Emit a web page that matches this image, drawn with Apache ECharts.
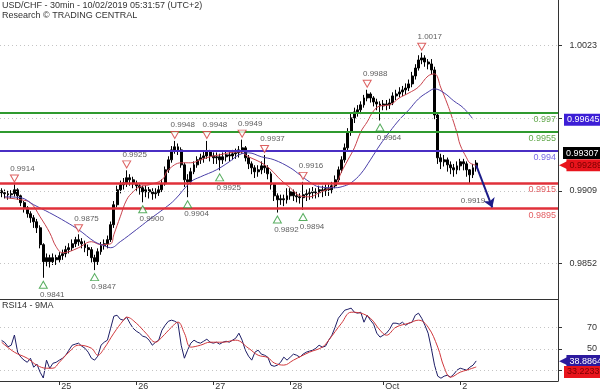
<!DOCTYPE html>
<html><head><meta charset="utf-8">
<script src="https://cdn.jsdelivr.net/npm/echarts@6/dist/echarts.min.js"></script>
<style>html,body{margin:0;padding:0;background:#fff}#c{width:600px;height:392px}</style>
</head><body><div id="c"></div>
<script>
// ---- x axis (hourly slots) ----
const slotCount = 174;
const dayTickIdx = [18, 42, 66, 90, 119, 143];
const dayTickText = ['25', '26', '27', '28', 'Oct', '2'];

// ---- price axis ----
const priceTickValues = [1.0023, 0.9966, 0.9909, 0.9852];
const priceLabelValues = [1.0023, 0.9909, 0.9852];
const priceRange = [0.98244, 1.00582];

// ---- RSI axis ----
const rsiTickValues = [70, 50, 30];
const rsiLabelValues = [70, 50];
const rsiRange = [20.2, 96.5];

// ---- candles: [open, close, low, high] ----
const candles = [
[0.99090,0.99075,0.99040,0.99110],[0.99075,0.99067,0.99030,0.99100],[0.99067,0.99059,0.99020,0.99090],[0.99059,0.99067,0.99030,0.99095],
[0.99067,0.99098,0.99045,0.99140],[0.99098,0.99051,0.99020,0.99110],[0.99051,0.98997,0.98970,0.99060],[0.98997,0.98957,0.98920,0.99010],
[0.98957,0.98911,0.98880,0.98970],[0.98911,0.98879,0.98840,0.98930],[0.98879,0.98848,0.98800,0.98900],[0.98848,0.98801,0.98760,0.98870],
[0.98801,0.98669,0.98640,0.98820],[0.98669,0.98536,0.98410,0.98680],[0.98536,0.98567,0.98500,0.98600],[0.98567,0.98536,0.98490,0.98590],
[0.98536,0.98567,0.98510,0.98600],[0.98567,0.98551,0.98510,0.98590],[0.98551,0.98583,0.98530,0.98610],[0.98583,0.98598,0.98550,0.98630],
[0.98598,0.98630,0.98570,0.98660],[0.98630,0.98645,0.98600,0.98680],[0.98645,0.98676,0.98620,0.98710],[0.98676,0.98708,0.98650,0.98730],
[0.98708,0.98692,0.98660,0.98750],[0.98692,0.98676,0.98640,0.98720],[0.98676,0.98645,0.98610,0.98700],[0.98645,0.98630,0.98580,0.98670],
[0.98630,0.98567,0.98530,0.98650],[0.98567,0.98536,0.98470,0.98590],[0.98536,0.98614,0.98510,0.98640],[0.98614,0.98661,0.98590,0.98690],
[0.98661,0.98676,0.98630,0.98710],[0.98676,0.98708,0.98640,0.98740],[0.98708,0.98825,0.98690,0.98850],[0.98825,0.98981,0.98800,0.99010],
[0.98981,0.99098,0.98960,0.99130],[0.99098,0.99137,0.99070,0.99170],[0.99137,0.99153,0.99100,0.99190],[0.99153,0.99192,0.99120,0.99250],
[0.99192,0.99176,0.99130,0.99220],[0.99176,0.99145,0.99110,0.99200],[0.99145,0.99129,0.99090,0.99170],[0.99129,0.99114,0.99060,0.99150],
[0.99114,0.99082,0.99000,0.99130],[0.99082,0.99098,0.99040,0.99130],[0.99098,0.99082,0.99030,0.99120],[0.99082,0.99067,0.99020,0.99110],
[0.99067,0.99075,0.99030,0.99110],[0.99075,0.99098,0.99050,0.99130],[0.99098,0.99145,0.99080,0.99180],[0.99145,0.99254,0.99130,0.99280],
[0.99254,0.99332,0.99230,0.99360],[0.99332,0.99410,0.99310,0.99440],[0.99410,0.99434,0.99380,0.99480],[0.99434,0.99410,0.99370,0.99460],
[0.99410,0.99293,0.99270,0.99430],[0.99293,0.99176,0.99120,0.99310],[0.99176,0.99160,0.99040,0.99220],[0.99160,0.99239,0.99140,0.99270],
[0.99239,0.99293,0.99220,0.99320],[0.99293,0.99332,0.99270,0.99360],[0.99332,0.99348,0.99300,0.99380],[0.99348,0.99363,0.99310,0.99400],
[0.99363,0.99395,0.99340,0.99480],[0.99395,0.99363,0.99320,0.99410],[0.99363,0.99348,0.99300,0.99390],[0.99348,0.99356,0.99300,0.99390],
[0.99356,0.99332,0.99250,0.99380],[0.99332,0.99356,0.99300,0.99390],[0.99356,0.99371,0.99320,0.99400],[0.99371,0.99363,0.99320,0.99400],
[0.99363,0.99379,0.99330,0.99410],[0.99379,0.99387,0.99340,0.99420],[0.99387,0.99410,0.99350,0.99440],[0.99410,0.99426,0.99380,0.99490],
[0.99426,0.99348,0.99320,0.99440],[0.99348,0.99301,0.99260,0.99370],[0.99301,0.99270,0.99220,0.99320],[0.99270,0.99239,0.99190,0.99290],
[0.99239,0.99254,0.99200,0.99290],[0.99254,0.99285,0.99220,0.99320],[0.99285,0.99270,0.99230,0.99370],[0.99270,0.99223,0.99180,0.99290],
[0.99223,0.99137,0.99100,0.99240],[0.99137,0.99051,0.99010,0.99150],[0.99051,0.99020,0.98920,0.99070],[0.99020,0.99028,0.98980,0.99060],
[0.99028,0.99020,0.98970,0.99060],[0.99020,0.99051,0.98990,0.99110],[0.99051,0.99082,0.99020,0.99110],[0.99082,0.99051,0.99010,0.99100],
[0.99051,0.99043,0.99000,0.99080],[0.99043,0.99036,0.98990,0.99070],[0.99036,0.99059,0.98940,0.99160],[0.99059,0.99067,0.99010,0.99100],
[0.99067,0.99075,0.99020,0.99110],[0.99075,0.99082,0.99030,0.99120],[0.99082,0.99075,0.99030,0.99110],[0.99075,0.99098,0.99040,0.99130],
[0.99098,0.99090,0.99040,0.99130],[0.99090,0.99106,0.99050,0.99140],[0.99106,0.99098,0.99050,0.99140],[0.99098,0.99129,0.99070,0.99160],
[0.99129,0.99176,0.99110,0.99210],[0.99176,0.99254,0.99160,0.99280],[0.99254,0.99332,0.99230,0.99360],[0.99332,0.99426,0.99310,0.99460],
[0.99426,0.99551,0.99400,0.99580],[0.99551,0.99660,0.99520,0.99700],[0.99660,0.99707,0.99620,0.99740],[0.99707,0.99723,0.99670,0.99760],
[0.99723,0.99762,0.99690,0.99790],[0.99762,0.99816,0.99740,0.99840],[0.99816,0.99847,0.99790,0.99880],[0.99847,0.99816,0.99780,0.99860],
[0.99816,0.99785,0.99750,0.99830],[0.99785,0.99769,0.99720,0.99810],[0.99769,0.99754,0.99640,0.99790],[0.99754,0.99769,0.99720,0.99800],
[0.99769,0.99762,0.99720,0.99800],[0.99762,0.99777,0.99730,0.99810],[0.99777,0.99832,0.99760,0.99860],[0.99832,0.99847,0.99800,0.99880],
[0.99847,0.99863,0.99820,0.99900],[0.99863,0.99879,0.99830,0.99910],[0.99879,0.99894,0.99840,0.99930],[0.99894,0.99926,0.99870,0.99960],
[0.99926,0.99988,0.99900,1.00020],[0.99988,1.00050,0.99960,1.00080],[1.00050,1.00113,1.00030,1.00150],[1.00113,1.00129,1.00080,1.00170],
[1.00129,1.00097,1.00060,1.00150],[1.00097,1.00082,1.00040,1.00120],[1.00082,1.00035,1.00000,1.00120],[1.00035,0.99683,0.99650,1.00060],
[0.99683,0.99348,0.99300,0.99700],[0.99348,0.99317,0.99260,0.99380],[0.99317,0.99332,0.99280,0.99370],[0.99332,0.99293,0.99240,0.99350],
[0.99293,0.99270,0.99220,0.99320],[0.99270,0.99254,0.99200,0.99300],[0.99254,0.99285,0.99220,0.99320],[0.99285,0.99317,0.99250,0.99340],
[0.99317,0.99301,0.99250,0.99340],[0.99301,0.99254,0.99200,0.99320],[0.99254,0.99215,0.99150,0.99260],[0.99215,0.99270,0.99190,0.99300],
[0.99270,0.99307,0.99240,0.99330]
];

// ---- moving averages: [slot, value] ----
const maFast = [[1,0.99036],[6,0.99020],[9,0.98997],[12,0.98887],[15,0.98762],[17,0.98653],[19,0.98606],[21,0.98614],[24,0.98645],[28,0.98692],[31,0.98669],[34,0.98676],[35,0.98747],[37,0.98887],[39,0.99020],[41,0.99082],[43,0.99121],[46,0.99137],[50,0.99176],[52,0.99254],[56,0.99309],[59,0.99309],[62,0.99332],[65,0.99356],[68,0.99371],[71,0.99387],[74,0.99395],[77,0.99356],[81,0.99309],[84,0.99254],[87,0.99176],[90,0.99114],[93,0.99051],[96,0.99043],[99,0.99075],[104,0.99137],[106,0.99239],[108,0.99332],[110,0.99426],[112,0.99551],[114,0.99629],[116,0.99715],[118,0.99754],[121,0.99762],[124,0.99816],[127,0.99855],[130,0.99902],[133,0.99988],[135,1.00004],[137,0.99894],[139,0.99769],[140,0.99699],[142,0.99543],[143,0.99449],[145,0.99348],[146,0.99309],[148,0.99289]];
const maSlow = [[1,0.99043],[6,0.99036],[10,0.98981],[15,0.98918],[20,0.98848],[24,0.98786],[29,0.98692],[32,0.98661],[34,0.98645],[37,0.98692],[42,0.98786],[46,0.98864],[51,0.98957],[54,0.99020],[59,0.99160],[62,0.99199],[67,0.99254],[71,0.99317],[74,0.99371],[77,0.99387],[81,0.99356],[85,0.99332],[90,0.99270],[93,0.99215],[96,0.99160],[99,0.99121],[104,0.99114],[107,0.99129],[109,0.99153],[112,0.99223],[115,0.99332],[118,0.99449],[121,0.99551],[124,0.99645],[127,0.99723],[130,0.99809],[133,0.99863],[135,0.99887],[138,0.99855],[141,0.99793],[144,0.99738],[147,0.99650]];

// ---- RSI14 per slot, and its 9MA ----
const rsi = [
58,56,52,53.5,63,47,42.4,39.6,37.6,41.4,
33,36,28.4,23,39.6,32,36.7,37.6,39.6,41.4,
44.2,48.9,53.5,54.5,55.4,52.6,50.7,47,41.4,39.6,
43.3,53.5,56.3,58.2,69.3,80.5,81.4,77.7,76.8,79.6,
74,69.3,66.6,64.7,61.9,61,58.2,53.5,56.3,58.2,
67.5,72.1,75.8,76.8,75.8,74,53.5,41.4,48.9,55.4,
58.2,56.3,55.4,57.2,59.1,56.3,55.4,56.3,54.5,56.3,
57.2,56.3,58.2,60,64.7,58.2,48.9,43.3,39.6,47,
48.9,45.2,44.2,42.4,34.9,33.9,34.9,37.6,42.4,39.6,
42.4,45.2,44.2,42.4,45.2,47,48,48.9,50.7,53.5,
51.7,52.6,58.2,62.8,70.3,78.6,82.4,86.1,87,88,
84.2,83.3,84.2,74.9,81.4,76.8,73.1,64.7,61,62.8,
64.7,68.4,74,74,73.1,74.9,72.1,74,74.9,81.4,
83.3,78.6,72.1,64.7,50.7,34.9,24.7,22.8,24.7,25.6,
23.8,26.5,30.3,32.1,31.2,30.3,33,34.9,38.8864
];
const rsiMa = [[0,56.3],[4,47],[8,41.4],[11,34.9],[14,32.1],[16,32.1],[18,37.6],[21,47],[24,53.5],[28,50.7],[30,44.2],[32,50.7],[35,64.7],[38,76.8],[39,79.6],[42,74],[45,64.7],[48,56.3],[50,61],[53,70.3],[55,75],[57,64.7],[59,51.7],[62,53.5],[65,56.3],[69,56.3],[73,58.2],[77,50.7],[80,44.2],[83,42],[85,37],[88,35],[91,39.6],[96,47],[100,51.7],[102,58.2],[106,74],[109,84.2],[112,83.3],[115,78.6],[118,67.5],[120,62.8],[123,70.3],[127,74],[130,76.8],[133,70.3],[136,51.7],[138,33],[140,23.8],[143,28.4],[145,30.3],[148,33.2233]];

// ---- key levels ----
const levelValues = [0.997, 0.9955, 0.994, 0.9915, 0.9895];
const levelText = ['0.997', '0.9955', '0.994', '0.9915', '0.9895'];
const levelLine = ['#2f9a2f', '#2f9a2f', '#4a2fc4', '#e0303a', '#e0303a'];
const levelLabel = ['#62a84c', '#62a84c', '#7a6ae6', '#e35d62', '#e35d62'];
const levelWidth = [2, 2, 2, 2.5, 2.5];

// ---- swing annotations ----
const highIdx = [4, 24, 39, 54, 64, 75, 82, 94, 114, 131];
const highVal = [0.9914, 0.9875, 0.9925, 0.9948, 0.9948, 0.9949, 0.9937, 0.9916, 0.9988, 1.0017];
const lowIdx = [13, 29, 44, 58, 68, 86, 94, 118];
const lowVal = [0.9841, 0.9847, 0.9900, 0.9904, 0.9925, 0.9892, 0.9894, 0.9964];

// ---- projection ----
const projFrom = [148, 0.99289];
const projTo = [153, 0.98960];
const projNote = [147, 0.99010];
const projNoteText = '0.9919';

// ---- last-value badges ----
const priceBadgeValues = [0.99645, 0.99307, 0.99289];
const rsiBadgeValues = [38.8864, 33.2233];

const FONT = 'Liberation Sans';
const cats = Array.from({length: slotCount}, (_, i) => String(i));
const isDay = (i) => dayTickIdx.indexOf(i) >= 0;
const HIDDEN = {color: 'rgba(0,0,0,0)', width: 0};

const chart = echarts.init(document.getElementById('c'), null, {renderer: 'canvas'});

const dotted = (v) => ({yAxis: v, lineStyle: {color: '#c4c4c4', width: 1, type: [1, 3]}, label: {show: false}});

const priceMarks = [].concat(
  priceTickValues.map(dotted),
  levelValues.map((v, i) => ({
    yAxis: v,
    lineStyle: {color: levelLine[i], width: levelWidth[i], type: 'solid'},
    label: {show: true, position: 'insideEndBottom', distance: 2, formatter: levelText[i], color: levelLabel[i], fontSize: 9, fontFamily: FONT}
  })),
  [
    {yAxis: priceBadgeValues[0], lineStyle: HIDDEN, label: {show: true, position: 'end', distance: 6, formatter: priceBadgeValues[0].toFixed(5), backgroundColor: '#3c1ed6', color: '#fff', padding: [2, 3, 1, 3], fontSize: 9, fontFamily: FONT}},
    {yAxis: priceBadgeValues[1], lineStyle: HIDDEN, label: {show: true, position: 'end', distance: 5, offset: [0, -10], formatter: priceBadgeValues[1].toFixed(5), backgroundColor: '#000', color: '#fff', padding: [2, 3, 1, 3], fontSize: 9, fontFamily: FONT}},
    {yAxis: priceBadgeValues[2], lineStyle: HIDDEN, label: {show: true, position: 'end', distance: 1, formatter: '{a|\u25C0}{b|' + priceBadgeValues[2].toFixed(5) + '}',
      rich: {a: {color: '#e8141c', fontSize: 11, fontFamily: 'DejaVu Sans', padding: [0, -1, 0, 0]}, b: {backgroundColor: '#e8141c', color: '#7a0000', padding: [2, 3, 1, 3], fontSize: 9, fontFamily: FONT}}}}
  ]
);

const rsiMarks = [].concat(
  rsiTickValues.map(dotted),
  [
    {yAxis: rsiBadgeValues[0], lineStyle: HIDDEN, label: {show: true, position: 'end', distance: 1, formatter: '{a|\u25C0}{b|' + rsiBadgeValues[0].toFixed(4) + '}',
      rich: {a: {color: '#2c1a9e', fontSize: 11, fontFamily: 'DejaVu Sans', padding: [0, -1, 0, 0]}, b: {backgroundColor: '#2c1a9e', color: '#fff', padding: [2, 3, 1, 3], fontSize: 9, fontFamily: FONT}}}},
    {yAxis: rsiBadgeValues[1], lineStyle: HIDDEN, label: {show: true, position: 'end', distance: 6, offset: [0, 5], formatter: rsiBadgeValues[1].toFixed(4), backgroundColor: '#e8141c', color: '#7a0000', padding: [2, 3, 1, 3], fontSize: 9, fontFamily: FONT}}
  ]
);

const annoLabel = {show: true, fontSize: 8, color: '#333', fontFamily: FONT, formatter: (p) => p.value[1].toFixed(4)};

chart.setOption({
  animation: false,
  textStyle: {fontFamily: FONT},
  title: [
    {text: 'USD/CHF - 30min - 10/02/2019 05:31:57 (UTC+2)', left: 2, top: 1, padding: 0, textStyle: {fontSize: 9, fontWeight: 'normal', color: '#333', fontFamily: FONT}},
    {text: 'Research \u00A9 TRADING CENTRAL', left: 2, top: 11, padding: 0, textStyle: {fontSize: 9, fontWeight: 'normal', color: '#333', fontFamily: FONT}},
    {text: 'RSI14 - 9MA', left: 2, top: 301, padding: 0, textStyle: {fontSize: 9, fontWeight: 'normal', color: '#333', fontFamily: FONT}}
  ],
  grid: [
    {left: 0, top: 0, width: 558, height: 299},
    {left: 0, top: 299, width: 558, height: 82}
  ],
  xAxis: [
    {type: 'category', gridIndex: 0, data: cats, axisLine: {show: true, lineStyle: {color: '#333'}}, axisTick: {show: false}, axisLabel: {show: false}, splitLine: {show: false}},
    {type: 'category', gridIndex: 1, data: cats, axisLine: {show: true, lineStyle: {color: '#333'}},
      axisTick: {show: true, interval: (i) => isDay(i), alignWithLabel: true, length: 4, lineStyle: {color: '#333'}},
      axisLabel: {interval: (i) => isDay(i), formatter: (v, i) => dayTickText[dayTickIdx.indexOf(i)] || '', align: 'left', margin: 1, padding: [0, 0, 0, 2], fontSize: 9, color: '#333'},
      splitLine: {show: false}}
  ],
  yAxis: [
    {type: 'value', gridIndex: 0, position: 'right', min: priceRange[0], max: priceRange[1],
      axisLine: {show: true, lineStyle: {color: '#333'}},
      axisTick: {show: true, customValues: priceTickValues, length: 4, lineStyle: {color: '#333'}},
      axisLabel: {customValues: priceLabelValues, formatter: (v) => v.toFixed(4), align: 'right', margin: 39, fontSize: 9, color: '#333'},
      splitLine: {show: false}},
    {type: 'value', gridIndex: 1, position: 'right', min: rsiRange[0], max: rsiRange[1],
      axisLine: {show: true, lineStyle: {color: '#333'}},
      axisTick: {show: true, customValues: rsiTickValues, length: 4, lineStyle: {color: '#333'}},
      axisLabel: {customValues: rsiLabelValues, formatter: (v) => String(v), align: 'right', margin: 39, fontSize: 9, color: '#333'},
      splitLine: {show: false}}
  ],
  series: [
    {type: 'candlestick', name: 'USD/CHF', xAxisIndex: 0, yAxisIndex: 0, data: candles, barWidth: 2.4,
      itemStyle: {color: '#000', color0: '#000', borderColor: '#000', borderColor0: '#000', borderWidth: 1},
      markLine: {symbol: 'none', silent: true, animation: false, precision: 6, z: 5, data: priceMarks}},
    {type: 'line', name: 'MA fast', xAxisIndex: 0, yAxisIndex: 0, data: maFast, smooth: 0.4, symbol: 'none', z: 4, lineStyle: {color: '#c8424c', width: 1}},
    {type: 'line', name: 'MA slow', xAxisIndex: 0, yAxisIndex: 0, data: maSlow, smooth: 0.4, symbol: 'none', z: 4, lineStyle: {color: '#4a3fa8', width: 1}},
    {type: 'scatter', name: 'highs', xAxisIndex: 0, yAxisIndex: 0, z: 6,
      data: highIdx.map((k, i) => [k, highVal[i]]),
      symbol: 'path://M0,0L10,0L5,9Z', symbolSize: [8, 7], symbolOffset: [0, -6],
      itemStyle: {color: '#fff', borderColor: '#d33a3a', borderWidth: 1},
      label: Object.assign({position: 'top', distance: 2, offset: [8, 0]}, annoLabel)},
    {type: 'scatter', name: 'lows', xAxisIndex: 0, yAxisIndex: 0, z: 6,
      data: lowIdx.map((k, i) => [k, lowVal[i]]),
      symbol: 'triangle', symbolSize: [8, 7], symbolOffset: [0, 7],
      itemStyle: {color: '#fff', borderColor: '#2f9a3a', borderWidth: 1},
      label: Object.assign({position: 'bottom', distance: 2, offset: [9, 0]}, annoLabel)},
    {type: 'scatter', name: 'projection', xAxisIndex: 0, yAxisIndex: 0, z: 7,
      data: [projNote], symbolSize: 0,
      label: {show: true, position: 'inside', formatter: projNoteText, fontSize: 8, color: '#333', fontFamily: FONT},
      markLine: {silent: true, animation: false, precision: 6, symbol: ['none', 'arrow'], symbolSize: 9,
        lineStyle: {color: '#1c1c88', width: 2, type: 'solid'}, label: {show: false},
        data: [[{coord: projFrom}, {coord: projTo}]]}},
    {type: 'line', name: 'RSI14', xAxisIndex: 1, yAxisIndex: 1, data: rsi, symbol: 'none', z: 4, lineStyle: {color: '#1d1d66', width: 1},
      markLine: {symbol: 'none', silent: true, animation: false, precision: 6, data: rsiMarks}},
    {type: 'line', name: '9MA', xAxisIndex: 1, yAxisIndex: 1, data: rsiMa, smooth: 0.4, symbol: 'none', z: 5, lineStyle: {color: '#d0383c', width: 1}}
  ]
});
</script></body></html>
